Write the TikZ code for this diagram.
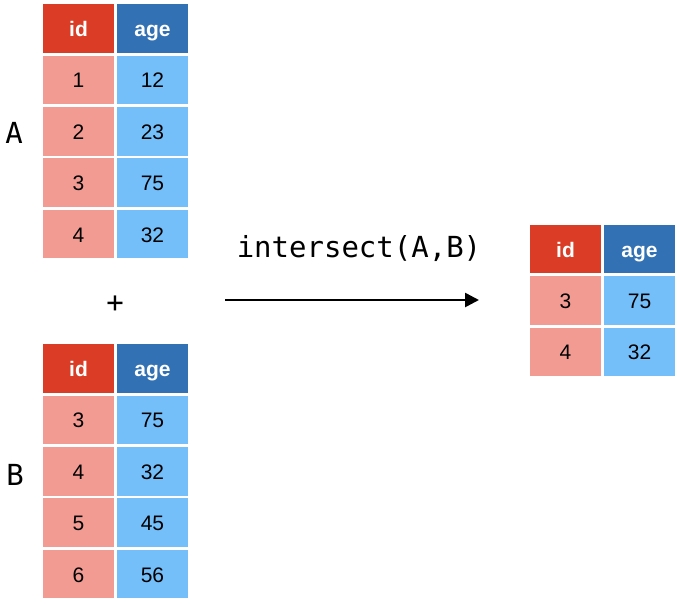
\documentclass[tikz,border=0pt]{standalone}
\usepackage{fontspec}
\setmainfont{Liberation Sans}
\newfontfamily\codefont{DejaVu Sans Mono}
\usetikzlibrary{arrows.meta}
\definecolor{hred}{RGB}{218,60,38}
\definecolor{hblue}{RGB}{50,114,180}
\definecolor{lred}{RGB}{242,155,147}
\definecolor{lblue}{RGB}{116,191,250}
\tikzset{
  cell/.style={rectangle, minimum width=71pt, minimum height=48.5pt, inner sep=0pt, text height=16pt, text depth=0pt, font=\fontsize{21}{24}\selectfont},
  hid/.style={cell, fill=hred, text=white, font=\fontsize{21}{24}\selectfont\bfseries},
  hage/.style={cell, fill=hblue, text=white, font=\fontsize{21}{24}\selectfont\bfseries},
  cid/.style={cell, fill=lred},
  cage/.style={cell, fill=lblue},
  code/.style={font=\codefont\fontsize{29}{32}\selectfont, inner sep=0pt},
}
\begin{document}
\begin{tikzpicture}[x=1pt,y=-1pt]
\useasboundingbox (0,0) rectangle (680,603);
% Table A
\node[hid]  (ah1) at (78.5,28.5) {id};
\node[hage] (ah2) at (152.5,28.5) {age};
\node[cid]  (a11) at (78.5,79.9) {1};
\node[cage] (a12) at (152.5,79.9) {12};
\node[cid]  (a21) at (78.5,131.3) {2};
\node[cage] (a22) at (152.5,131.3) {23};
\node[cid]  (a31) at (78.5,182.7) {3};
\node[cage] (a32) at (152.5,182.7) {75};
\node[cid]  (a41) at (78.5,234.1) {4};
\node[cage] (a42) at (152.5,234.1) {32};
% Table B
\node[hid]  (bh1) at (78.5,368.5) {id};
\node[hage] (bh2) at (152.5,368.5) {age};
\node[cid]  (b11) at (78.5,419.9) {3};
\node[cage] (b12) at (152.5,419.9) {75};
\node[cid]  (b21) at (78.5,471.3) {4};
\node[cage] (b22) at (152.5,471.3) {32};
\node[cid]  (b31) at (78.5,522.7) {5};
\node[cage] (b32) at (152.5,522.7) {45};
\node[cid]  (b41) at (78.5,574.1) {6};
\node[cage] (b42) at (152.5,574.1) {56};
% Result
\node[hid]  (rh1) at (565.5,249) {id};
\node[hage] (rh2) at (639.5,249) {age};
\node[cid]  (r11) at (565.5,300.4) {3};
\node[cage] (r12) at (639.5,300.4) {75};
\node[cid]  (r21) at (565.5,351.8) {4};
\node[cage] (r22) at (639.5,351.8) {32};
% Labels
\node[code] (la) at (14,133) {A};
\node[code] (lb) at (15,475) {B};
\node[code] (plus) at (115,304) {+};
\node[code, anchor=base] (fn) at (359,257) {intersect(A,B)};
% Arrow
\coordinate (s) at (225,300);
\coordinate (e) at (479,300);
\draw[line width=2.6pt, -{Triangle[length=14pt,width=14pt]}] (s) -- (e);
\end{tikzpicture}
\end{document}
